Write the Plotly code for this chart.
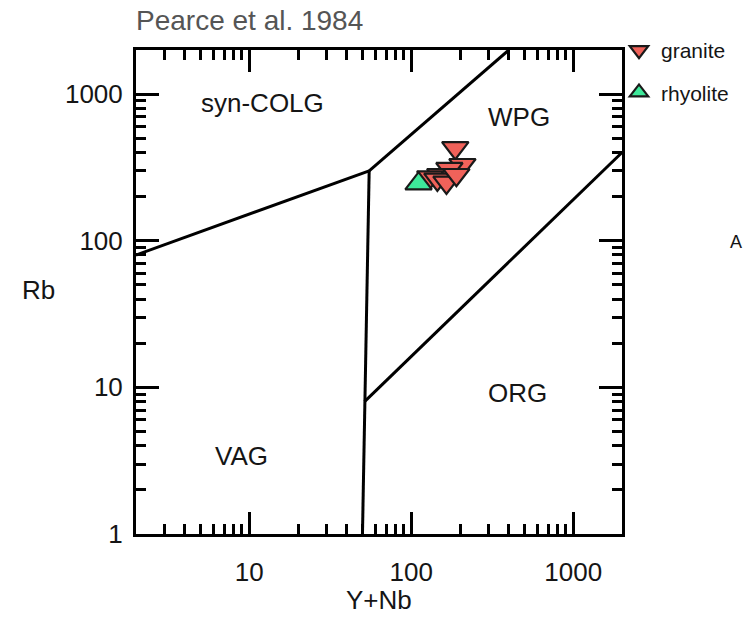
import plotly.graph_objects as go
import numpy as np

# Data
granite_ynb = [187, 207, 172, 151, 131, 145, 165, 190]
granite_rb = [430, 330, 310, 282, 272, 262, 250, 282]
rhyolite_ynb = [111]
rhyolite_rb = [245]

# Boundary lines (Pearce et al. 1984)
b1_x = [2, 55]; b1_y = [80, 300]
b2_x = [55, 400]; b2_y = [300, 2000]
b3_x = [55, 51.5, 50]; b3_y = [300, 8, 1]
b4_x = [51.5, 2000]; b4_y = [8, 400]

field_names = ["syn-COLG", "WPG", "ORG", "VAG"]
field_x = [12.1, 465, 452, 8.9]
field_y = [865, 693, 9.2, 3.38]

xtick_vals = [10, 100, 1000]
ytick_vals = [1, 10, 100, 1000]

FONT = "Liberation Sans, Arial, sans-serif"
TXT = "#151515"

L, R, T, B = 136, 121, 50, 86
PW, PH = 743 - L - R, 620 - T - B

fig = go.Figure()
for bx, by in [(b1_x, b1_y), (b2_x, b2_y), (b3_x, b3_y), (b4_x, b4_y)]:
    fig.add_trace(go.Scatter(x=bx, y=by, mode="lines", line=dict(color="black", width=3),
                             showlegend=False, hoverinfo="skip"))

fig.add_trace(go.Scatter(x=granite_ynb, y=granite_rb, mode="markers", name="granite",
                         legendgroup="g",
                         marker=dict(symbol="triangle-down", size=23, color="#f0625a",
                                     line=dict(color="#1a1a1a", width=2.2))))
fig.add_trace(go.Scatter(x=rhyolite_ynb, y=rhyolite_rb, mode="markers", name="rhyolite",
                         legendgroup="r",
                         marker=dict(symbol="triangle-up", size=23, color="#3ee89a",
                                     line=dict(color="#1a1a1a", width=2.2))))

for n, x, y in zip(field_names, field_x, field_y):
    fig.add_annotation(x=np.log10(x), y=np.log10(y), text=n, showarrow=False,
                       font=dict(size=26, color=TXT, family=FONT))

fig.add_annotation(xref="paper", yref="paper", x=(736 - L) / PW, y=(620 - B - 242) / PH, text="A",
                   showarrow=False, xanchor="center", yanchor="middle",
                   font=dict(size=18, color=TXT, family=FONT))

# axis titles (horizontal Rb)
fig.add_annotation(xref="paper", yref="paper", x=(38 - L) / PW, y=(620 - B - 290) / PH,
                   text="Rb", showarrow=False, xanchor="center", yanchor="middle",
                   font=dict(size=26, color=TXT, family=FONT))
fig.add_annotation(xref="paper", yref="paper", x=(379 - L) / PW, y=(620 - B - 600) / PH,
                   text="Y+Nb", showarrow=False, xanchor="center", yanchor="middle",
                   font=dict(size=26, color=TXT, family=FONT))

def minors(lo, hi):
    vals = []
    for d in range(lo, hi):
        for m in range(2, 10):
            vals.append(m * 10 ** d)
    return vals

common = dict(type="log", showgrid=False, zeroline=False, showline=True, linecolor="black",
              linewidth=3, mirror="ticks", ticks="inside", tickcolor="black", tickwidth=2.5,
              tickfont=dict(size=26, color=TXT, family=FONT))

fig.update_xaxes(range=[np.log10(2), np.log10(2000)], tickvals=xtick_vals,
                 ticktext=[str(v) for v in xtick_vals], ticklen=22, ticklabelstandoff=13,
                 minor=dict(ticks="inside", ticklen=10, tickcolor="black", tickwidth=2.5,
                            tickvals=minors(0, 4)),
                 **common)
fig.update_yaxes(range=[0, np.log10(2000)], tickvals=ytick_vals,
                 ticktext=[str(v) for v in ytick_vals], ticklen=23, ticklabelstandoff=5,
                 minor=dict(ticks="inside", ticklen=10, tickcolor="black", tickwidth=2.5,
                            tickvals=minors(0, 4)),
                 **common)

fig.update_layout(
    width=743, height=620,
    margin=dict(l=L, r=R, t=T, b=B, autoexpand=False),
    paper_bgcolor="white", plot_bgcolor="white",
    title=dict(text="Pearce et al. 1984", x=136/743, xanchor="left", y=1 - 20/620, yanchor="middle",
               font=dict(size=28, color="#555555", family=FONT)),
    legend=dict(xref="container", yref="container", x=617/743, xanchor="left",
                y=1 - 30/620, yanchor="top", tracegroupgap=12,
                font=dict(size=21, color=TXT, family=FONT), bgcolor="rgba(0,0,0,0)",
                itemwidth=34),
    showlegend=True,
)

fig.write_html("out.html")
